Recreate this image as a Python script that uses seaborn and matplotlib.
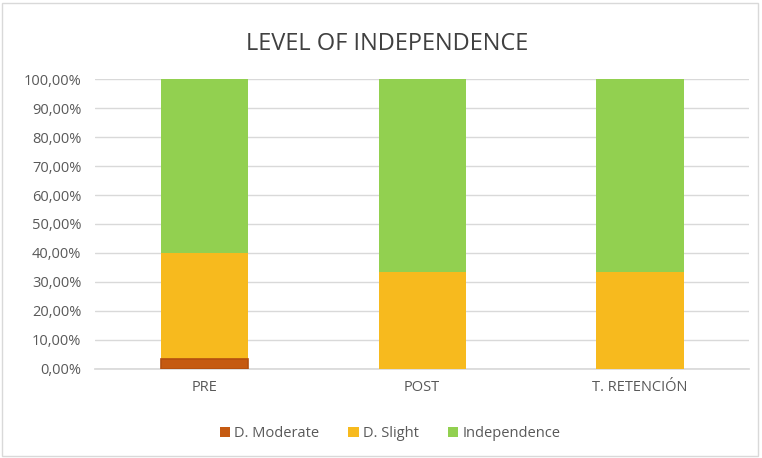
import matplotlib
matplotlib.use("Agg")
import matplotlib.pyplot as plt
import seaborn as sns
import pandas as pd
import numpy as np
from matplotlib.patches import Patch, Rectangle
from matplotlib.ticker import FuncFormatter

categories = ["PRE", "POST", "T. RETENCIÓN"]
d_moderate = [3.33, 0.0, 0.0]
d_slight = [36.67, 33.33, 33.33]
independence = [60.0, 66.67, 66.67]

series_names = ["D. Moderate", "D. Slight", "Independence"]
colors = ["#C55A11", "#F7BA1E", "#92D050"]

sns.set_theme(style="white")
plt.rcParams["font.family"] = ["Open Sans", "DejaVu Sans"]

fig = plt.figure(figsize=(7.62, 4.58), dpi=100)
ax = fig.add_axes([0.125, 0.195, 0.858, 0.632])

# cumulative tops, drawn back to front so each layer covers the one above it
cum_slight = np.array(d_moderate) + np.array(d_slight)
cum_total = cum_slight + np.array(independence)
layers = [
    (cum_total, colors[2], "none", 0),
    (cum_slight, colors[1], "none", 0),
    (np.array(d_moderate), colors[0], "#B4500F", 1.2),
]
for tops, col, ec, lw in layers:
    df = pd.DataFrame({"cat": categories, "val": tops})
    sns.barplot(data=df, x="cat", y="val", color=col, width=0.4,
                saturation=1, ax=ax, zorder=3, linewidth=lw, edgecolor=ec)

# empty segments should leave no outline behind
for p in ax.patches:
    if p.get_height() == 0:
        p.set_linewidth(0)
        p.set_visible(False)

ax.set_ylim(0, 100)
ax.set_yticks(np.arange(0, 101, 10))
ax.yaxis.set_major_formatter(FuncFormatter(lambda v, p: f"{v:.2f}%".replace(".", ",")))
ax.grid(axis="y", color="#D9D9D9", linewidth=1, zorder=0)
ax.set_axisbelow(True)
for s in ["top", "right", "left"]:
    ax.spines[s].set_visible(False)
ax.spines["bottom"].set_color("#D9D9D9")
ax.tick_params(axis="both", length=0, labelsize=10.5, colors="#595959", pad=10)
ax.tick_params(axis="x", pad=8)
ax.set_xlabel("")
ax.set_ylabel("")
ax.set_xlim(-0.5, 2.5)

fig.suptitle("LEVEL OF INDEPENDENCE", x=0.508, y=0.93, fontsize=17,
             color="#404040")

handles = [Patch(facecolor=c, edgecolor="none") for c in colors]
fig.legend(handles, series_names, loc="center", bbox_to_anchor=(0.512, 0.054),
           ncol=3, frameon=False, fontsize=10.5, handlelength=0.7,
           handleheight=0.7, columnspacing=2.0, handletextpad=0.3,
           labelcolor="#595959")

fig.patches.append(Rectangle((0.003, 0.004), 0.992, 0.99, transform=fig.transFigure,
                             fill=False, edgecolor="#D9D9D9", linewidth=1))

fig.savefig("out.png", dpi=100)
